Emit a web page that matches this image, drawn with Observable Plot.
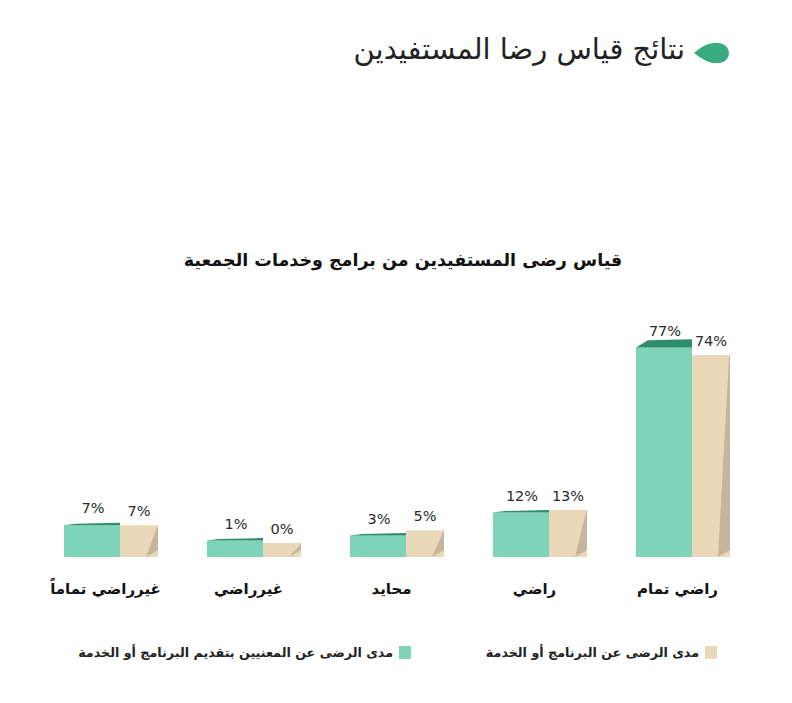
<!DOCTYPE html>
<html lang="ar">
<head>
<meta charset="utf-8">
<script src="https://cdn.jsdelivr.net/npm/d3@7"></script>
<script src="https://cdn.jsdelivr.net/npm/@observablehq/plot@0.6"></script>
<style>
  html, body { margin: 0; padding: 0; background: #fff; }
  #wrap { position: relative; width: 792px; height: 703px; overflow: hidden; font-family: "DejaVu Sans", "Noto Sans", sans-serif; }
  #chart { position: absolute; left: 0; top: 0; }
  .hdr { position: absolute; right: 107px; top: 32px; font-size: 29px; color: #222; direction: rtl; white-space: nowrap; }
  .drop { position: absolute; left: 692px; top: 40px; }
  .ctitle { position: absolute; left: 0; width: 806px; top: 250px; text-align: center; font-size: 17.5px; font-weight: bold; color: #111; direction: rtl; white-space: nowrap; }
  .leg { position: absolute; top: 645px; direction: rtl; display: flex; align-items: center; font-size: 12.7px; font-weight: bold; color: #222; white-space: nowrap; }
  .leg .sw { width: 12px; height: 13px; margin-left: 6px; }
</style>
</head>
<body>
<div id="wrap">
  <svg class="drop" width="40" height="26" viewBox="0 0 40 26">
    <path d="M2 13 C 10 6, 18 2, 27 3 C 34 4, 37 9, 37 13 C 37 18, 33 23, 26 23 C 17 24, 10 19, 2 13 Z" fill="#3aab80"/>
  </svg>
  <div class="hdr">نتائج قياس رضا المستفيدين</div>
  <div class="ctitle">قياس رضى المستفيدين من برامج وخدمات الجمعية</div>
  <div id="chart"></div>
  <div class="leg" style="right:75px"><span class="sw" style="background:#ead9b8"></span><span>مدى الرضى عن البرنامج أو الخدمة</span></div>
  <div class="leg" style="right:381px"><span class="sw" style="background:#7fd3b9"></span><span>مدى الرضى عن المعنيين بتقديم البرنامج أو الخدمة</span></div>
</div>
<script>
// Categories in reading order (right to left)
const categories = ["راضي تمام", "راضي", "محايد", "غيرراضي", "غيرراضي تماماً"];
const seriesKeys = ["staff", "program"];
const staffValues = [77, 12, 3, 1, 7];    // green: مدى الرضى عن المعنيين بتقديم البرنامج أو الخدمة
const programValues = [74, 13, 5, 0, 7];  // beige: مدى الرضى عن البرنامج أو الخدمة

const colors = { staff: "#7fd3b9", program: "#ead9b8" };
const yMin = -5.5;

const data = [];
categories.forEach((c, i) => {
  data.push({ cat: c, series: "staff", value: staffValues[i] });
  data.push({ cat: c, series: "program", value: programValues[i] });
});
const green = data.filter(d => d.series === "staff");
const beige = data.filter(d => d.series === "program");

const plot = Plot.plot({
  width: 792,
  height: 703,
  marginLeft: 63,
  marginRight: 62,
  marginTop: 350,
  marginBottom: 146,
  style: { fontFamily: "DejaVu Sans, sans-serif", background: "transparent", overflow: "visible" },
  fx: { domain: categories.slice().reverse(), paddingInner: 0.345, paddingOuter: 0, axis: null, label: null },
  x: { domain: seriesKeys, padding: 0, axis: null, label: null },
  y: { domain: [yMin, 76], axis: null, label: null },
  marks: [
    Plot.barY(green, { fx: "cat", x: "series", y1: d => yMin, y2: "value", fill: colors.staff, insetRight: -9 }),
    Plot.barY(beige, { fx: "cat", x: "series", y1: d => yMin, y2: "value", fill: colors.program, insetLeft: 9 }),
    Plot.text(green, { fx: "cat", x: "series", y: "value", text: d => d.value + "%", dy: -17, dx: 5, fontSize: 14.5, fontWeight: 500, fill: "#2a2a2a" }),
    Plot.text(beige, { fx: "cat", x: "series", y: "value", text: d => d.value + "%", dy: -14, dx: 4, fontSize: 14.5, fontWeight: 500, fill: "#2a2a2a" }),
    Plot.text(categories, { fx: d => d, frameAnchor: "bottom", dy: 36, dx: -6, text: d => d, fontSize: 15, fontWeight: "bold", fill: "#111" })
  ]
});
document.getElementById("chart").appendChild(plot);

// pseudo-3D faces derived from the positioned bars
const svg = d3.select(plot);
svg.selectAll(`g[fill="${colors.program}"] rect`).each(function () {
  const r = d3.select(this);
  const x = +r.attr("x"), y = +r.attr("y"), w = +r.attr("width"), h = +r.attr("height");
  const p = d3.select(this.parentNode);
  const x2 = x + w, yb = y + h;
  p.append("polygon")
    .attr("points", `${x2},${y} ${x2},${yb - 7} ${x2 - 12},${yb} ${x2 - 1},${y + 2}`)
    .attr("fill", "#c4b59c");
});
svg.selectAll(`g[fill="${colors.staff}"] rect`).each(function () {
  const r = d3.select(this);
  const x = +r.attr("x"), y = +r.attr("y"), w = +r.attr("width"), h = +r.attr("height");
  const p = d3.select(this.parentNode);
  const t = Math.max(1.5, h * 0.035);
  p.append("polygon")
    .attr("points", `${x},${y} ${x + 12},${y - t} ${x + w},${y - t - 1} ${x + w},${y}`)
    .attr("fill", "#2f8c6c");
});
</script>
</body>
</html>
